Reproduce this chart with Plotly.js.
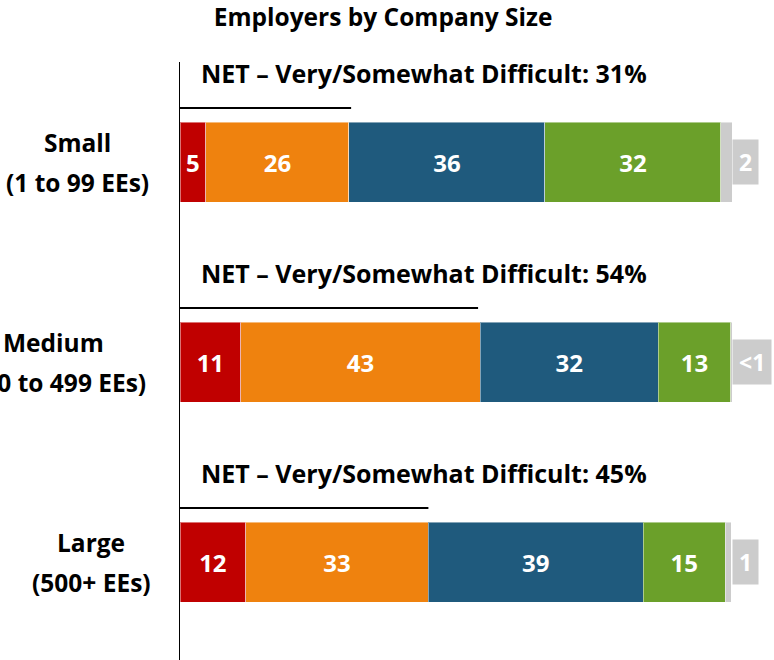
<!DOCTYPE html>
<html>
<head>
<meta charset="utf-8">
<script src="https://cdn.plot.ly/plotly-3.0.1.min.js"></script>
<style>html,body{margin:0;padding:0;background:#fff;}#chart{width:774px;height:660px;}</style>
</head>
<body>
<div id="chart"></div>
<script>
// ---- data ----
var categories = ["Small", "Medium", "Large"];
var categoryLine1 = ["Small", "Medium", "Large"];
var categoryLine2 = ["(1 to 99 EEs)", "(100 to 499 EEs)", "(500+ EEs)"];
var seriesNames = ["Very difficult", "Somewhat difficult", "Not too difficult", "Not at all difficult", "Don't know"];
var veryDifficult = [4.7, 11.0, 11.9];
var somewhatDifficult = [25.9, 43.4, 33.1];
var notTooDifficult = [35.5, 32.2, 38.9];
var notAtAllDifficult = [31.9, 13.2, 14.9];
var dontKnow = [2.0, 0.2, 1.1];
var labelsVery = ["5", "11", "12"];
var labelsSomewhat = ["26", "43", "33"];
var labelsNotToo = ["36", "32", "39"];
var labelsNotAtAll = ["32", "13", "15"];
var labelsDontKnow = ["2", "&lt;1", "1"];
var netDifficult = [31, 54, 45];
var colors = ["#C00000", "#EF820E", "#1F5A7D", "#6BA02A", "#CCCCCC"];

var F = "'Open Sans', Lato, 'DejaVu Sans', sans-serif";
var valuesList = [veryDifficult, somewhatDifficult, notTooDifficult, notAtAllDifficult, dontKnow];
var labelList = [labelsVery, labelsSomewhat, labelsNotToo, labelsNotAtAll, null];

var traces = valuesList.map(function (vals, i) {
  return {
    type: "bar",
    orientation: "h",
    name: seriesNames[i],
    y: categories,
    x: vals,
    width: 0.4,
    marker: { color: colors[i], line: { color: "rgba(255,255,255,0.45)", width: 1 } },
    text: labelList[i] ? labelList[i] : undefined,
    textposition: labelList[i] ? "inside" : "none",
    insidetextanchor: "middle",
    constraintext: "none",
    textangle: 0,
    textfont: { family: F, size: 24, color: "#FFFFFF", weight: "bold" },
    hoverinfo: "x+name"
  };
});

var annotations = [];
var shapes = [];
categories.forEach(function (c, i) {
  annotations.push({
    xref: "x", yref: "y", x: 3.5, y: i - 0.445, xanchor: "left", yanchor: "middle",
    text: "NET – Very/Somewhat Difficult: " + netDifficult[i] + "%",
    showarrow: false, font: { family: F, size: 25, color: "#000", weight: "bold" }
  });
  shapes.push({
    type: "line", xref: "x", yref: "y", x0: 0, x1: netDifficult[i], y0: i - 0.27, y1: i - 0.27,
    line: { color: "#000", width: 2 }
  });
  annotations.push({
    xref: "x", yref: "y", x: 100, y: i, xanchor: "left", yanchor: "middle",
    text: labelsDontKnow[i], showarrow: false, bgcolor: "#CCCCCC", borderpad: 6,
    font: { family: F, size: 23, color: "#FFFFFF", weight: "bold" }
  });
});

// label centres in paper coordinates (plot area spans 180..732 px)
var catCenters = [-0.1848, -0.2300, -0.1612];
categories.forEach(function (c, i) {
  annotations.push({
    xref: "paper", yref: "y", x: catCenters[i], y: i - 0.1, xanchor: "center", yanchor: "middle",
    text: categoryLine1[i], showarrow: false, font: { family: F, size: 24.5, color: "#000", weight: "bold" }
  });
  annotations.push({
    xref: "paper", yref: "y", x: catCenters[i], y: i + 0.1, xanchor: "center", yanchor: "middle",
    text: categoryLine2[i], showarrow: false, font: { family: F, size: 24.5, color: "#000", weight: "bold" }
  });
});

var layout = {
  width: 774, height: 660,
  margin: { l: 180, r: 42, t: 62, b: 0 },
  paper_bgcolor: "#FFFFFF", plot_bgcolor: "#FFFFFF",
  barmode: "stack",
  showlegend: false,
  title: {
    text: "Employers by Company Size",
    xref: "container", yref: "container", x: 0.495, y: 0.973, xanchor: "center", yanchor: "middle",
    font: { family: F, size: 24.5, color: "#000", weight: "bold" }
  },
  xaxis: { range: [0, 100], visible: false, fixedrange: true },
  yaxis: {
    type: "category", range: [2.49, -0.5], showticklabels: false, ticks: "",
    showgrid: false, zeroline: false, showline: true, linecolor: "#000", linewidth: 1.5
  },
  annotations: annotations,
  shapes: shapes
};

Plotly.newPlot("chart", traces, layout, { displayModeBar: false, staticPlot: true });
</script>
</body>
</html>
